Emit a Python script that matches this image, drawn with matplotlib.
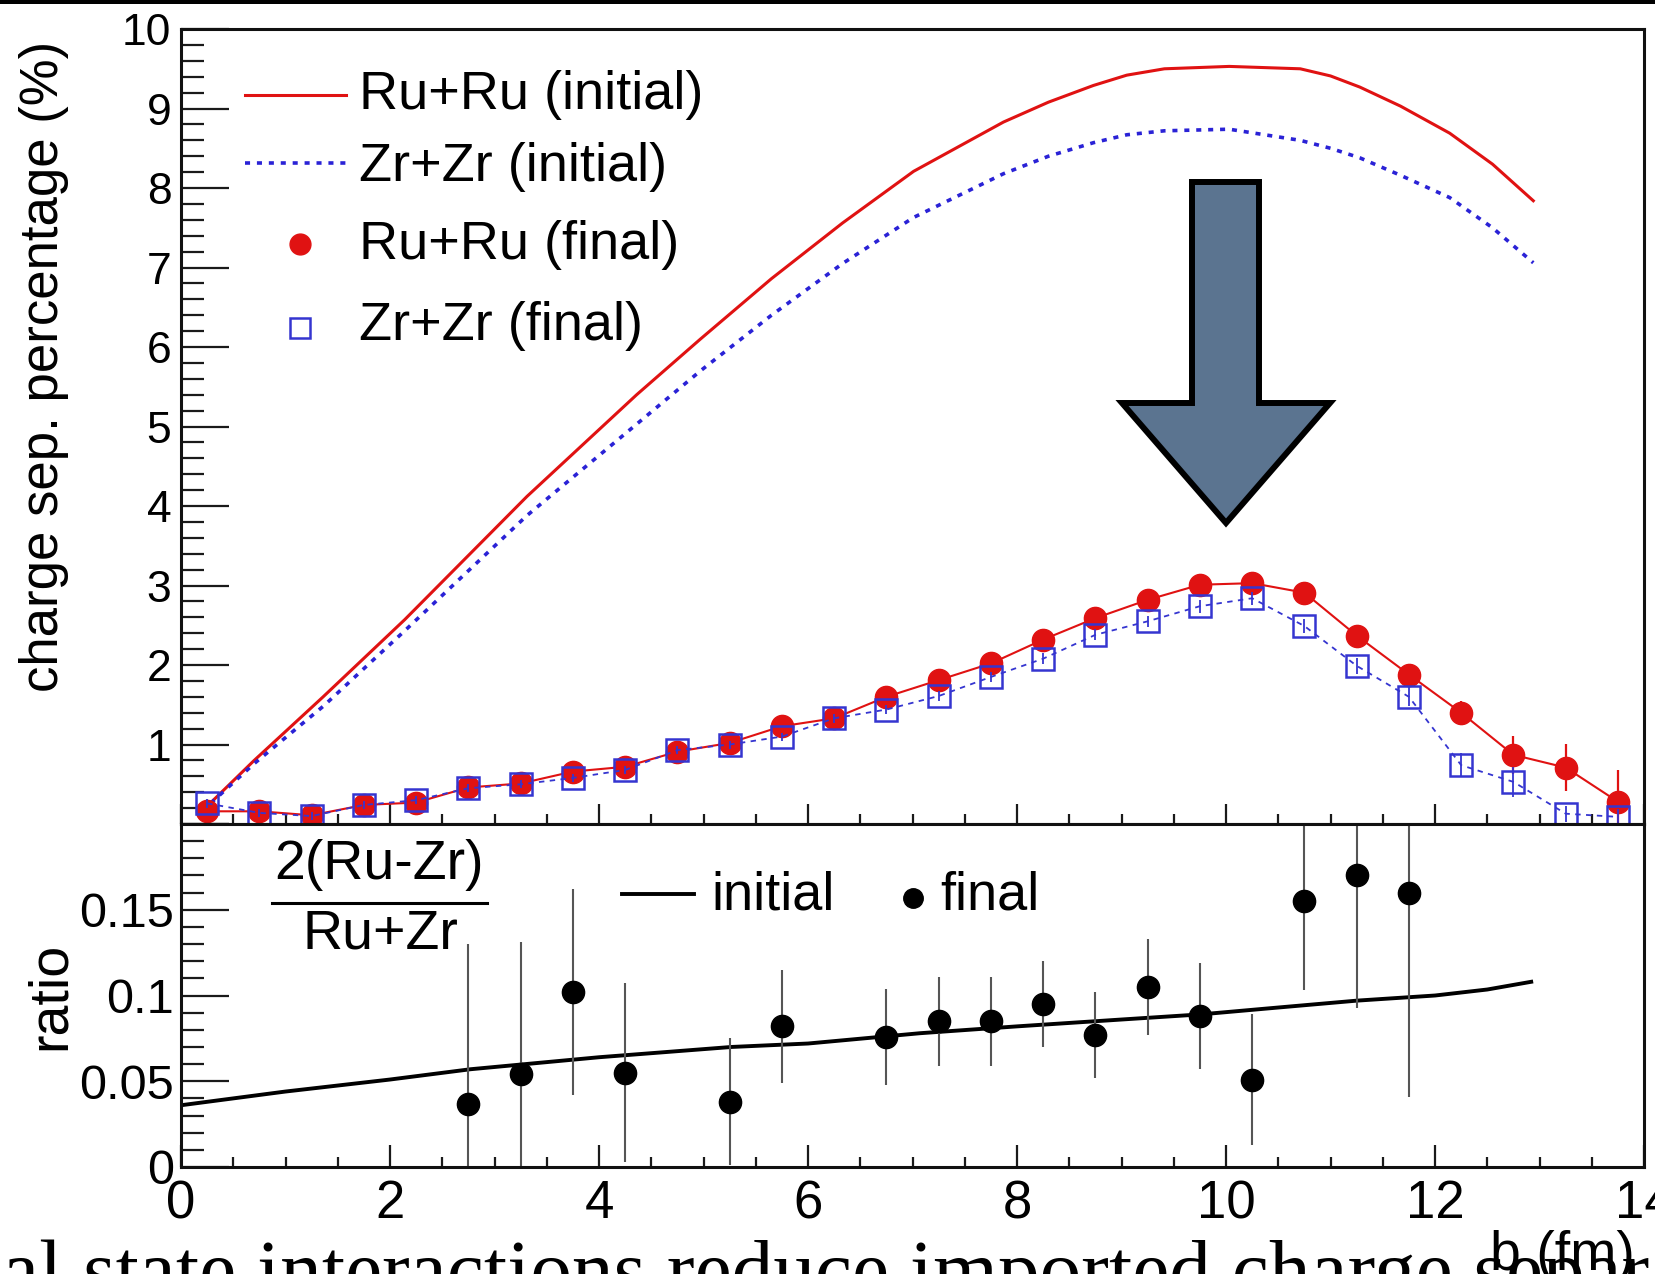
import matplotlib
matplotlib.use('Agg')
import matplotlib.pyplot as plt
from matplotlib.ticker import MultipleLocator, FuncFormatter
from matplotlib.patches import Polygon, Rectangle

plt.rcParams['font.family'] = ['Liberation Sans', 'DejaVu Sans']

# ---------------- data ----------------
# initial-state curves (upper panel)
b_init = [0.20, 0.70, 1.36, 2.14, 3.31, 4.36, 4.97, 5.65, 6.33, 7.01, 7.87,
          8.30, 8.73, 9.05, 9.41, 10.03, 10.71, 11.00, 11.28, 11.67, 12.14,
          12.55, 12.94]
ru_init = [0.16, 0.80, 1.60, 2.57, 4.12, 5.40, 6.10, 6.86, 7.56, 8.21, 8.83,
           9.08, 9.29, 9.42, 9.50, 9.53, 9.50, 9.41, 9.27, 9.03, 8.69,
           8.30, 7.84]
zr_init = [0.16, 0.76, 1.48, 2.43, 3.88, 5.03, 5.70, 6.40, 7.05, 7.63, 8.18,
           8.40, 8.57, 8.67, 8.72, 8.74, 8.60, 8.50, 8.38, 8.16, 7.88,
           7.50, 7.06]

# final-state points (upper panel)
b_final = [0.25, 0.75, 1.25, 1.75, 2.25, 2.75, 3.25, 3.75, 4.25, 4.75, 5.25,
           5.75, 6.25, 6.75, 7.25, 7.75, 8.25, 8.75, 9.25, 9.75, 10.25, 10.75,
           11.25, 11.75, 12.25, 12.75, 13.25, 13.75]
ru_final = [0.16, 0.16, 0.11, 0.24, 0.27, 0.46, 0.51, 0.66, 0.72, 0.91, 1.02,
            1.23, 1.33, 1.60, 1.81, 2.02, 2.32, 2.59, 2.82, 3.01, 3.03, 2.91,
            2.37, 1.88, 1.40, 0.87, 0.71, 0.28]
ru_err = [0.06, 0.05, 0.05, 0.05, 0.05, 0.05, 0.05, 0.05, 0.05, 0.05, 0.05,
          0.05, 0.06, 0.06, 0.06, 0.06, 0.07, 0.07, 0.07, 0.08, 0.08, 0.09,
          0.10, 0.12, 0.15, 0.24, 0.30, 0.40]
zr_final = [0.26, 0.14, 0.10, 0.24, 0.30, 0.45, 0.50, 0.58, 0.68, 0.93, 1.00,
            1.10, 1.33, 1.44, 1.61, 1.85, 2.08, 2.38, 2.55, 2.74, 2.84, 2.49,
            1.99, 1.60, 0.74, 0.53, 0.13, 0.09]
zr_err = [0.06, 0.05, 0.05, 0.05, 0.05, 0.05, 0.05, 0.05, 0.05, 0.05, 0.05,
          0.05, 0.06, 0.06, 0.06, 0.06, 0.07, 0.07, 0.07, 0.08, 0.08, 0.09,
          0.10, 0.12, 0.15, 0.19, 0.10, 0.10]

# ratio panel
b_ratio_init = [0.0, 1.0, 2.0, 2.77, 4.0, 5.27, 6.0, 7.07, 8.0, 9.0, 9.76,
                10.5, 11.25, 12.0, 12.5, 12.92]
ratio_init = [0.036, 0.044, 0.051, 0.057, 0.064, 0.070, 0.072, 0.078, 0.082,
              0.086, 0.089, 0.093, 0.0970, 0.1000, 0.1035, 0.108]
b_ratio = [2.75, 3.25, 3.75, 4.25, 5.25, 5.75, 6.75, 7.25, 7.75, 8.25, 8.75,
           9.25, 9.75, 10.25, 10.75, 11.25, 11.75]
ratio_final = [0.037, 0.054, 0.102, 0.055, 0.038, 0.082, 0.076, 0.085, 0.085,
               0.095, 0.077, 0.105, 0.088, 0.051, 0.155, 0.170, 0.160]
ratio_err = [0.093, 0.077, 0.060, 0.052, 0.037, 0.033, 0.028, 0.026, 0.026,
             0.025, 0.025, 0.028, 0.031, 0.038, 0.052, 0.077, 0.119]

legend_upper = ['Ru+Ru (initial)', 'Zr+Zr (initial)', 'Ru+Ru (final)', 'Zr+Zr (final)']
ylabel_upper = 'charge sep. percentage (%)'
ylabel_lower = 'ratio'
xlabel = 'b (fm)'
slide_text = 'Final state interactions reduce imported charge separation'

# ---------------- styling ----------------
RED = '#e01212'
BLUE = '#2a22d6'
BLUE_SQ = '#3535d0'
W, H = 1656, 1274

fig = plt.figure(figsize=(W / 100, H / 100), dpi=100)
fig.patch.set_facecolor('white')
ax1 = fig.add_axes([0.1093, 0.3532, 0.8835, 0.6240])
ax2 = fig.add_axes([0.1093, 0.0840, 0.8835, 0.2692])

# upper panel
ax1.plot(b_init, ru_init, color=RED, lw=2.2, zorder=2, solid_joinstyle='round')
ax1.plot(b_init, zr_init, color=BLUE, lw=2.6, dashes=(1.4, 1.9), zorder=2)
ax1.plot(b_final, ru_final, color=RED, lw=1.5, zorder=3)
ax1.errorbar(b_final, ru_final, yerr=ru_err, fmt='o', ms=16, color=RED,
             ecolor=RED, elinewidth=1.6, capsize=0, zorder=3)
ax1.plot(b_final, zr_final, color=BLUE_SQ, lw=1.3, dashes=(3, 3), zorder=4)
ax1.errorbar(b_final, zr_final, yerr=zr_err, fmt='s', ms=16, mfc='none',
             mec=BLUE_SQ, mew=1.8, ecolor=BLUE_SQ, elinewidth=1.3, capsize=0,
             zorder=4)

ax1.set_xlim(0, 14)
ax1.set_ylim(0, 10)
ax1.xaxis.set_major_locator(MultipleLocator(2))
ax1.xaxis.set_minor_locator(MultipleLocator(0.5))
ax1.yaxis.set_major_locator(MultipleLocator(1))
ax1.yaxis.set_minor_locator(MultipleLocator(0.2))
ax1.yaxis.set_major_formatter(FuncFormatter(lambda v, p: '' if abs(v) < 1e-9 else f'{v:g}'))
ax1.tick_params(axis='both', which='both', direction='in', top=False, right=False,
                labelbottom=False, width=1.6, color='#1a1a1a')
ax1.tick_params(axis='x', which='major', length=14.4)
ax1.tick_params(axis='x', which='minor', length=7.2)
ax1.tick_params(axis='y', which='major', length=34.5, labelsize=32, pad=7)
ax1.tick_params(axis='y', which='minor', length=16.5)
ax1.set_ylabel(ylabel_upper, fontsize=38)
ax1.yaxis.set_label_coords(-0.0766, 0.575)

# upper legend (manual, no frame)
ax1.plot([0.0437, 0.1128], [0.917, 0.917], transform=ax1.transAxes, color=RED,
         lw=2.2, clip_on=False)
ax1.plot([0.0437, 0.1128], [0.832, 0.832], transform=ax1.transAxes, color=BLUE,
         lw=2.6, dashes=(1.4, 1.9), clip_on=False)
ax1.plot([0.0813], [0.730], 'o', ms=15, color=RED, transform=ax1.transAxes, clip_on=False)
ax1.plot([0.0813], [0.624], 's', ms=15, mfc='none', mec=BLUE_SQ, mew=1.8,
         transform=ax1.transAxes, clip_on=False)
for lab, yy in zip(legend_upper, [0.917, 0.826, 0.728, 0.626]):
    ax1.text(0.1217, yy, lab, transform=ax1.transAxes, fontsize=39, va='center', ha='left')

# lower panel
ax2.plot(b_ratio_init, ratio_init, color='black', lw=2.8, zorder=2, solid_joinstyle='round')
ax2.errorbar(b_ratio, ratio_final, yerr=ratio_err, fmt='o', ms=16, color='black',
             ecolor='#555555', elinewidth=1.5, capsize=0, zorder=3)
ax2.set_xlim(0, 14)
ax2.set_ylim(0, 0.2)
ax2.xaxis.set_major_locator(MultipleLocator(2))
ax2.xaxis.set_minor_locator(MultipleLocator(0.5))
ax2.yaxis.set_major_locator(MultipleLocator(0.05))
ax2.yaxis.set_minor_locator(MultipleLocator(0.01))
ax2.xaxis.set_major_formatter(FuncFormatter(lambda v, p: f'{v:g}'))
ax2.yaxis.set_major_formatter(FuncFormatter(lambda v, p: '' if v > 0.19 else f'{v:g}'))
ax2.tick_params(axis='both', which='both', direction='in', top=False, right=False,
                width=1.6, color='#1a1a1a')
ax2.tick_params(axis='x', which='major', length=16, labelsize=38, pad=9)
ax2.tick_params(axis='x', which='minor', length=7)
ax2.tick_params(axis='y', which='major', length=34.5, labelsize=35, pad=5)
ax2.tick_params(axis='y', which='minor', length=16.5)
ax2.set_ylabel(ylabel_lower, fontsize=40)
ax2.yaxis.set_label_coords(-0.0711, 0.4985)
ax2.set_xlabel(xlabel, fontsize=40, ha='right', va='top')
ax2.xaxis.set_label_coords(0.9938, -0.184)

# lower legend / formula
ax2.text(0.1357, 0.880, '2(Ru-Zr)', transform=ax2.transAxes, fontsize=40, ha='center', va='center')
ax2.plot([0.0622, 0.2092], [0.770, 0.770], transform=ax2.transAxes, color='black', lw=2.2)
ax2.text(0.1360, 0.679, 'Ru+Zr', transform=ax2.transAxes, fontsize=40, ha='center', va='center')
ax2.plot([0.3014, 0.3507], [0.796, 0.796], transform=ax2.transAxes, color='black', lw=2.8)
ax2.text(0.3623, 0.793, 'initial', transform=ax2.transAxes, fontsize=39, ha='left', va='center')
ax2.plot([0.5003], [0.784], 'o', ms=14, color='black', transform=ax2.transAxes, clip_on=False)
ax2.text(0.5188, 0.793, 'final', transform=ax2.transAxes, fontsize=39, ha='left', va='center')

for ax in (ax1, ax2):
    for s in ax.spines.values():
        s.set_linewidth(2.2)
        s.set_color('#111111')
        s.set_zorder(5)

# big downward arrow (slide annotation)
arrow_px = [(1192, 182), (1259, 182), (1259, 403), (1330, 403), (1226, 523),
            (1122, 403), (1192, 403)]
arrow = Polygon([(x / W, 1 - y / H) for x, y in arrow_px], closed=True,
                transform=fig.transFigure, facecolor='#5b7490', edgecolor='black',
                linewidth=4.3, joinstyle='miter', zorder=10)
fig.add_artist(arrow)

# black band at the very top of the slide
fig.add_artist(Rectangle((0, 1 - 4 / H), 1, 4 / H, transform=fig.transFigure,
                         facecolor='black', edgecolor='none'))

# slide text, cut by the bottom edge
fig.text(-109 / W, 1 - 1297 / H, slide_text, family=['Liberation Serif', 'DejaVu Serif'],
         fontsize=60, ha='left', va='baseline')

fig.savefig('out.png', dpi=100)
